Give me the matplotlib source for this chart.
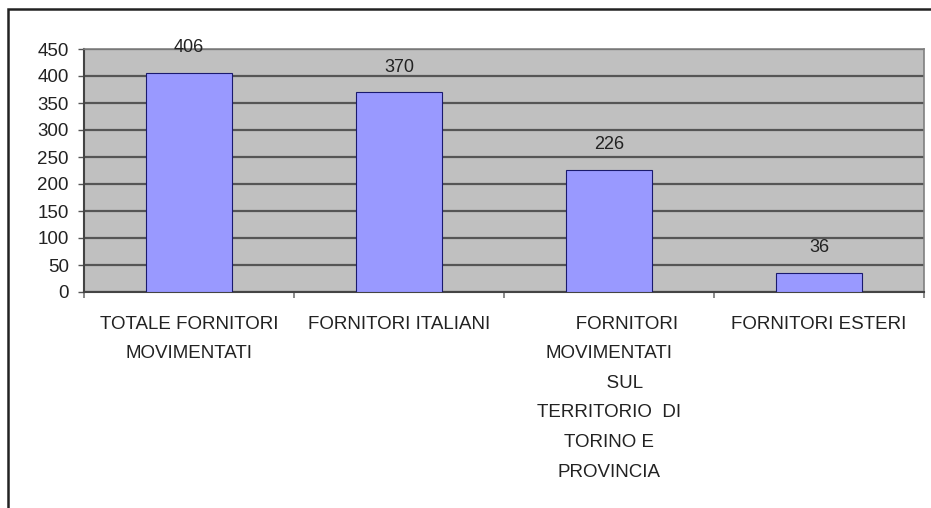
import matplotlib
matplotlib.use("Agg")
import matplotlib.pyplot as plt
from matplotlib.patches import Rectangle

categories = [
    "TOTALE FORNITORI\nMOVIMENTATI",
    "FORNITORI ITALIANI",
    "       FORNITORI\nMOVIMENTATI\n      SUL\nTERRITORIO  DI\nTORINO E\nPROVINCIA",
    "FORNITORI ESTERI",
]
values = [406, 370, 226, 36]
yticks = [0, 50, 100, 150, 200, 250, 300, 350, 400, 450]

plt.rcParams['font.family'] = ['Liberation Sans', 'DejaVu Sans']

W, H = 931, 508
fig = plt.figure(figsize=(W / 100, H / 100), dpi=100)
fig.patch.set_facecolor("white")

# outer chart frame (only top and left visible)
fig.patches.append(Rectangle((8 / W, -0.1), 2.0, (H - 9) / H + 0.1,
                             transform=fig.transFigure, fill=False,
                             edgecolor="#222222", linewidth=1.8, zorder=0))

left, right, top, bottom = 84, 924, 49, 292
ax = fig.add_axes([left / W, 1 - bottom / H, (right - left) / W, (bottom - top) / H])
ax.set_facecolor("#C0C0C0")

x = list(range(len(categories)))
ax.bar(x, values, width=0.405, color="#9999FF", edgecolor="#1a1a6e",
       linewidth=0.8, zorder=3)

for xi, v in zip(x, values):
    ax.annotate(str(v), (xi, v), xytext=(0, 18), textcoords="offset points",
                ha="center", va="center", fontsize=13, color="#222222", zorder=4)

ax.set_xlim(-0.5, len(categories) - 0.5)
ax.set_ylim(0, 450)
ax.set_yticks(yticks)
ax.set_yticklabels([str(t) for t in yticks], fontsize=13.5, color="#222222")
ax.yaxis.grid(True, color="#555555", linewidth=1.6, zorder=1)
ax.set_axisbelow(True)

ax.set_xticks(x)
ax.set_xticklabels(categories, fontsize=13.5, color="#222222", linespacing=1.97)
ax.tick_params(axis="x", length=0, pad=17)
ax.tick_params(axis="y", length=4, width=1, color="#555555", pad=7)

# category boundary ticks
ax.set_xticks([i - 0.5 for i in range(len(categories) + 1)], minor=True)
ax.tick_params(axis="x", which="minor", length=4, width=1.2, color="#777777")

for s in ["left", "bottom"]:
    ax.spines[s].set_color("#444444")
    ax.spines[s].set_linewidth(1.5)
for s in ["top", "right"]:
    ax.spines[s].set_color("#808080")
    ax.spines[s].set_linewidth(1.2)

fig.savefig("out.png", dpi=100)
